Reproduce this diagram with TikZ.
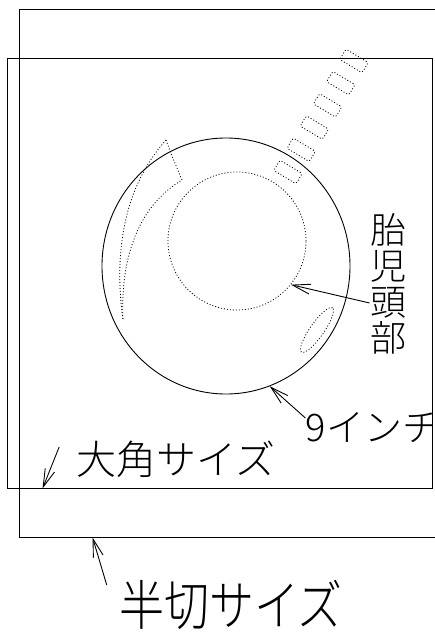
\documentclass[tikz,border=0pt]{standalone}
\usepackage{fontspec}
\newfontfamily\jp{Noto Sans CJK JP Light}
\usetikzlibrary{arrows.meta,shapes.geometric}

\begin{document}
\begin{tikzpicture}[x=1pt,y=-1pt,line width=0.9pt,
  sizebox/.style={draw,rectangle,inner sep=0pt},
  dots/.style={dash pattern=on 1pt off 2pt,line width=0.8pt},
  lbl/.style={inner sep=0pt},
  pointer/.style={-{Straight Barb[length=18pt,width=10pt]}}]
\useasboundingbox (0,0) rectangle (435,635);

% paper sizes
\begin{scope}
\clip (0,0) rectangle (435,635);
\node[sizebox,minimum width=441pt,minimum height=528pt] (hangiri) at (239.5,273) {};
\node[sizebox,minimum width=425pt,minimum height=430pt] (daikaku) at (219.5,273) {};
\end{scope}

% head and its outlines
\node[draw,ellipse,minimum width=248pt,minimum height=256pt,inner sep=0pt] (skull) at (226,266) {};
\node[draw,circle,dots,minimum size=138pt,inner sep=0pt] (brain) at (237,241) {};
\draw[dots,rotate around={55:(317,330)}] (317,330) ellipse [x radius=27pt,y radius=7pt];
\draw[dots] (166,140) -- (172,156) -- (182,180) .. controls (140,205) and (120,255) .. (123,320);
\draw[dots] (166,140) .. controls (130,180) and (112,240) .. (123,320);
\foreach \i in {0,...,5}
  \node[draw,dots,rounded corners=2pt,minimum width=26pt,minimum height=12pt,inner sep=0pt,rotate=-31]
    (bead\i) at ({288+13.2*\i},{172-22.2*\i}) {};

% labels
\node[lbl,align=center,font=\jp\fontsize{36}{36}\selectfont] (headlbl) at (388,284) {胎\\児\\頭\\部};
\begin{scope}
\clip (0,0) rectangle (432,635);
\node[lbl,font=\jp\fontsize{38}{38}\selectfont] (inchlbl) at (373,428) {9インチ};
\end{scope}
\node[lbl,font=\jp\fontsize{40}{40}\selectfont] (daikakulbl) at (176,459) {大角サイズ};
\node[lbl,yscale=1.2,font=\jp\fontsize{45}{45}\selectfont] (hangirilbl) at (231,605) {半切サイズ};

\draw[pointer] ([yshift=-19pt]headlbl.west) -- (brain.-39);
\draw[pointer] ([yshift=10pt]inchlbl.west) -- (skull.-70);
\draw[pointer] ([xshift=-17pt,yshift=12pt]daikakulbl.west) -- ([xshift=36pt]daikaku.south west);
\draw[pointer] ([xshift=-12pt,yshift=20pt]hangirilbl.west) -- ([xshift=74pt]hangiri.south west);
\end{tikzpicture}
\end{document}
